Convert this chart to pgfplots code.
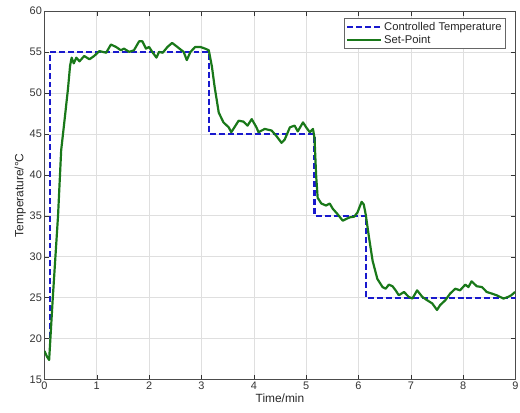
\documentclass[border=0pt]{standalone}
\usepackage{pgfplots}
\pgfplotsset{compat=1.18}
\usepackage{fontspec}
\setmainfont{Liberation Sans}
\definecolor{mblue}{RGB}{25,25,205}
\definecolor{mgreen}{RGB}{25,120,25}
\begin{document}
\begin{tikzpicture}[x=1pt,y=1pt]
\begin{axis}[
  at={(0,0)}, anchor=south west,
  width=474pt, height=371pt, scale only axis,
  xmin=0, xmax=9, ymin=15, ymax=60,
  xtick={0,1,...,9}, ytick={15,20,...,60},
  tick align=inside, major tick length=5pt,
  tick style={black!80, line width=0.5pt},
  axis line style={black!70, line width=0.7pt},
  grid=major, grid style={gray!25, line width=0.6pt},
  /pgf/number format/assume math mode=true,
  ticklabel style={font=\fontsize{11}{12}\selectfont, text=black!80},
  xticklabel style={yshift=1pt},
  yticklabel style={xshift=1pt},
  xlabel={Time/min}, ylabel={Temperature/°C},
  label style={font=\fontsize{12}{13}\selectfont, text=black!85},
  xlabel style={yshift=3pt},
  ylabel style={yshift=-3pt},
  legend style={at={(0.9796,0.981)}, anchor=north east, draw=black!60,
    font=\fontsize{11.3}{13}\selectfont, text=black!85, inner xsep=2pt, inner ysep=2pt,
    row sep=-1pt, line width=0.7pt},
  legend cell align=left,
  legend image code/.code={\draw[#1] (0pt,0pt) -- (34pt,0pt);},
]
\addplot[mblue, line width=2.1pt, dash pattern=on 6pt off 3pt] coordinates {
(0.11,19) (0.11,55) (3.15,55) (3.15,45) (5.16,45) (5.16,35) (6.15,35) (6.15,25) (9,25)
};
\addlegendentry{Controlled Temperature}
\addplot[mgreen, line width=2.2pt, line join=round] coordinates {
(0,18.5) (0.05,17.8) (0.09,17.4) (0.16,25) (0.26,35) (0.32,43) (0.39,47) (0.45,50.5) (0.49,53.3) (0.52,54.3)
(0.56,53.6) (0.61,54.3) (0.67,53.85) (0.76,54.5) (0.86,54.1) (0.95,54.5) (1.05,55.1) (1.18,54.9)
(1.27,55.9) (1.37,55.6) (1.46,55.2) (1.52,55.4) (1.62,55.0) (1.71,55.2) (1.81,56.3) (1.87,56.3)
(1.94,55.4) (2.0,55.6) (2.06,55.0) (2.14,54.3) (2.19,55.0) (2.26,54.9) (2.35,55.6) (2.44,56.1)
(2.54,55.6) (2.66,55.0) (2.72,54.0) (2.79,55.0) (2.88,55.6) (2.98,55.6) (3.07,55.4) (3.14,55.2)
(3.2,53.2) (3.25,50.8) (3.33,47.6) (3.42,46.4) (3.52,45.8) (3.57,45.2) (3.63,45.8) (3.71,46.6)
(3.80,46.5) (3.88,46.0) (3.96,46.8) (4.05,45.8) (4.09,45.2) (4.21,45.6) (4.34,45.4) (4.43,44.75)
(4.53,43.9) (4.59,44.3) (4.69,45.8) (4.78,46.0) (4.84,45.3) (4.94,46.4) (5.0,45.8) (5.07,45.2)
(5.13,45.6) (5.16,44.5) (5.19,40) (5.22,37.2) (5.29,36.5) (5.38,36.25) (5.45,36.5) (5.51,35.85)
(5.60,35.2) (5.70,34.4) (5.76,34.6) (5.83,34.8) (5.92,34.9) (5.98,35.4) (6.06,36.7) (6.10,36.4)
(6.14,35.1) (6.20,32.4) (6.27,29.5) (6.36,27.3) (6.46,26.3) (6.52,26.1) (6.58,26.6) (6.65,26.4)
(6.71,25.9) (6.77,25.3) (6.87,25.7) (6.96,25.1) (7.03,24.9) (7.12,25.9) (7.22,25.1) (7.31,24.7)
(7.41,24.3) (7.50,23.5) (7.56,24.1) (7.66,24.7) (7.75,25.5) (7.85,26.1) (7.94,25.9) (8.04,26.6)
(8.10,26.3) (8.16,27.0) (8.26,26.4) (8.36,26.3) (8.45,25.7) (8.55,25.5) (8.64,25.3) (8.77,24.9)
(8.86,25.1) (8.92,25.3) (8.99,25.7)
};
\addlegendentry{Set-Point}
\end{axis}
\pgfresetboundingbox
\path[use as bounding box] (-44.7pt,-33pt) rectangle (478.5pt,382pt);
\end{tikzpicture}
\end{document}
